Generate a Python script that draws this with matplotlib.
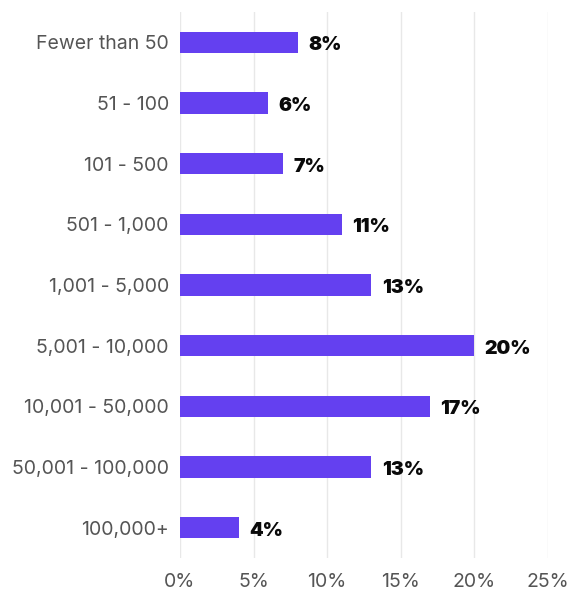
import matplotlib
matplotlib.use("Agg")
import matplotlib.pyplot as plt
from matplotlib.ticker import FuncFormatter

categories = ["Fewer than 50", "51 - 100", "101 - 500", "501 - 1,000", "1,001 - 5,000",
              "5,001 - 10,000", "10,001 - 50,000", "50,001 - 100,000", "100,000+"]
values = [8, 6, 7, 11, 13, 20, 17, 13, 4]
x_ticks = [0, 5, 10, 15, 20, 25]

plt.rcParams["font.family"] = ["Inter", "DejaVu Sans"]

fig = plt.figure(figsize=(5.8, 5.91), dpi=100)
ax = fig.add_axes([0.3103, 0.0558, 0.6345, 0.9239])

pos = list(range(len(categories)))
ax.barh(pos, values, height=0.35, color="#6440f0", zorder=3)
for p, v in zip(pos, values):
    ax.text(v + 0.7, p + 0.05, f"{v}%", va="center", ha="left", fontsize=14,
            fontweight="black", color="#0a0a0a", zorder=4)

ax.set_xlim(0, 25)
ax.set_ylim(8.5, -0.5)
ax.set_yticks(pos)
ax.set_yticklabels(categories)
ax.set_xticks(x_ticks)
ax.xaxis.set_major_formatter(FuncFormatter(lambda x, _: f"{x:.0f}%"))
ax.tick_params(axis="y", length=0, pad=8, labelsize=14, labelcolor="#555555")
ax.tick_params(axis="x", length=0, pad=11, labelsize=14, labelcolor="#555555")
ax.grid(axis="x", color="#e8e8e8", linewidth=1, zorder=0)
for s in ax.spines.values():
    s.set_visible(False)

fig.savefig("out.png", dpi=100, facecolor="white")
